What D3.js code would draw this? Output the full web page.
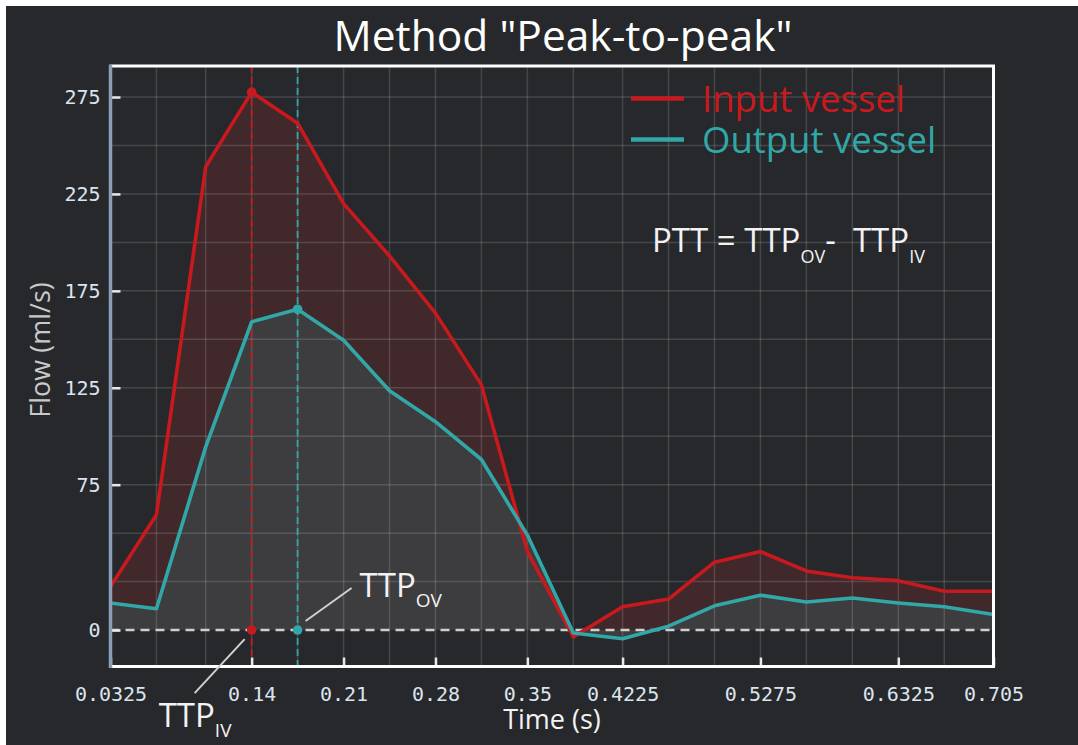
<!DOCTYPE html>
<html>
<head>
<meta charset="utf-8">
<script src="https://cdn.jsdelivr.net/npm/d3@7"></script>
<style>
  html, body { margin: 0; padding: 0; background: #ffffff; }
  svg { display: block; }
</style>
</head>
<body>
<svg id="chart" width="1078" height="745"></svg>
<script>
// Sample times (s)
const times = [0.0325, 0.0675, 0.105, 0.14, 0.175, 0.21, 0.245, 0.28, 0.315, 0.35,
               0.385, 0.4225, 0.4575, 0.4925, 0.5275, 0.5625, 0.5975, 0.6325, 0.6675, 0.705];
// Flow in the input vessel (ml/s)
const inputFlow = [22.5, 59.5, 239, 277.5, 261.5, 220, 193, 163.5, 126.5, 40.5,
                   -3.5, 12, 16, 35, 40.5, 30.5, 27, 25.5, 20, 20];
// Flow in the output vessel (ml/s)
const outputFlow = [14, 11, 94.5, 159, 165.5, 149.5, 123.5, 107.5, 88, 49,
                    -1.5, -4.5, 2, 12.5, 18, 14.5, 16.5, 14, 12, 8];

const xTickValues = [0.0325, 0.14, 0.21, 0.28, 0.35, 0.4225, 0.5275, 0.6325, 0.705];
const yTickValues = [275, 225, 175, 125, 75, 0];
const yGridValues = [0, 25, 50, 75, 100, 125, 150, 175, 200, 225, 250, 275];

const seriesNames = ["Input vessel", "Output vessel"];
const seriesColors = ["#c8191e", "#32a7a7"];

const svg = d3.select("#chart");
const W = 1078, H = 745;
const plot = { left: 110.5, right: 993.5, top: 66, bottom: 666.5 };

// page background
svg.append("rect").attr("x", 6).attr("y", 6).attr("width", W - 6).attr("height", H - 6)
  .attr("fill", "#26282b");

const x = d3.scaleLinear().domain([0.0325, 0.705]).range([plot.left, plot.right]);
const y = d3.scaleLinear().domain([-18.8, 291]).range([plot.bottom, plot.top]);

const g = svg.append("g");

// area fills (between each curve and zero)
const area = d3.area().x((d, i) => x(times[i])).y0(y(0)).y1(d => y(d));
g.append("path").datum(inputFlow).attr("d", area).attr("fill", "#40282b");
g.append("path").datum(outputFlow).attr("d", area).attr("fill", "#3d3c3e");

// grid
const grid = g.append("g").attr("stroke", "rgba(255,255,255,0.14)").attr("stroke-width", 1.5);
grid.selectAll("line.v").data(times.slice(1, -1)).join("line")
  .attr("x1", d => x(d)).attr("x2", d => x(d))
  .attr("y1", plot.top).attr("y2", plot.bottom);
grid.selectAll("line.h").data(yGridValues.slice(1)).join("line")
  .attr("x1", plot.left).attr("x2", plot.right)
  .attr("y1", d => y(d)).attr("y2", d => y(d));

// zero reference line
g.append("line")
  .attr("x1", plot.left).attr("x2", plot.right)
  .attr("y1", y(0)).attr("y2", y(0))
  .attr("stroke", "#cfcfcf").attr("stroke-width", 2.5).attr("stroke-dasharray", "9,6");

// time-to-peak markers
const series = [inputFlow, outputFlow];
const peakIdx = series.map(s => d3.maxIndex(s));
series.forEach((s, k) => {
  const tp = times[peakIdx[k]];
  g.append("line")
    .attr("x1", x(tp)).attr("x2", x(tp))
    .attr("y1", plot.top).attr("y2", plot.bottom)
    .attr("stroke", seriesColors[k]).attr("stroke-width", 1.8)
    .attr("stroke-dasharray", "7,4");
});

// flow curves
const line = d3.line().x((d, i) => x(times[i])).y(d => y(d));
series.forEach((s, k) => {
  g.append("path").datum(s).attr("d", line)
    .attr("fill", "none").attr("stroke", seriesColors[k])
    .attr("stroke-width", 3.6).attr("stroke-linejoin", "round");
});

// peak dots and their projections on the zero line
series.forEach((s, k) => {
  const i = peakIdx[k];
  [s[i], 0].forEach(v => {
    g.append("circle").attr("cx", x(times[i])).attr("cy", y(v)).attr("r", 4.8)
      .attr("fill", seriesColors[k]);
  });
});

// axes
const tickFont = "'DejaVu Sans Mono', monospace";
const yAxis = d3.axisLeft(y).tickValues(yTickValues).tickSize(-10).tickPadding(10)
  .tickFormat(d => String(d));
const yg = svg.append("g").attr("transform", `translate(${plot.left},0)`).call(yAxis);
yg.select(".domain").remove();
yg.selectAll(".tick line").attr("stroke", "#e8e8e8").attr("stroke-width", 2.5);
yg.selectAll(".tick text").attr("fill", "#dbe4ee").style("font-family", tickFont)
  .style("font-size", "20px");

const xAxis = d3.axisBottom(x).tickValues(xTickValues).tickSize(-9).tickPadding(20)
  .tickFormat(d => String(d));
const xg = svg.append("g").attr("transform", `translate(0,${plot.bottom})`).call(xAxis);
xg.select(".domain").remove();
xg.selectAll(".tick line").attr("stroke", "#e8e8e8").attr("stroke-width", 2.5);
xg.selectAll(".tick text").attr("fill", "#dbe4ee").style("font-family", tickFont)
  .style("font-size", "20px");

// frame
svg.append("line").attr("x1", plot.left).attr("x2", plot.right + 1.5)
  .attr("y1", plot.top).attr("y2", plot.top).attr("stroke", "#ffffff").attr("stroke-width", 3);
svg.append("line").attr("x1", plot.right).attr("x2", plot.right)
  .attr("y1", plot.top).attr("y2", plot.bottom + 1.5).attr("stroke", "#ffffff").attr("stroke-width", 3);
svg.append("line").attr("x1", plot.left).attr("x2", plot.right + 1.5)
  .attr("y1", plot.bottom).attr("y2", plot.bottom).attr("stroke", "#ffffff").attr("stroke-width", 3);
svg.append("line").attr("x1", plot.left).attr("x2", plot.left)
  .attr("y1", plot.top - 1.5).attr("y2", plot.bottom + 1.5).attr("stroke", "#8c9db6").attr("stroke-width", 3.5);

const textFont = "'Open Sans', 'Noto Sans', sans-serif";

// title
svg.append("text").attr("x", 563).attr("y", 51).attr("text-anchor", "middle")
  .attr("fill", "#ffffff").style("font-family", textFont).style("font-size", "42.5px")
  .text('Method "Peak-to-peak"');

// axis titles
svg.append("text").attr("x", (plot.left + plot.right) / 2).attr("y", 729)
  .attr("text-anchor", "middle").attr("fill", "#f2f2f2")
  .style("font-family", textFont).style("font-size", "27px").text("Time (s)");
svg.append("text").attr("transform", "translate(50,350) rotate(-90)")
  .attr("text-anchor", "middle").attr("fill", "#c9c9c9")
  .style("font-family", textFont).style("font-size", "27px").text("Flow (ml/s)");

// legend
const legend = svg.append("g");
seriesNames.forEach((name, k) => {
  const ly = 98.5 + k * 41;
  legend.append("line").attr("x1", 631).attr("x2", 684).attr("y1", ly).attr("y2", ly)
    .attr("stroke", seriesColors[k]).attr("stroke-width", 4.5);
  legend.append("text").attr("x", 702).attr("y", ly + 13)
    .attr("fill", seriesColors[k]).style("font-family", textFont).style("font-size", "36.5px")
    .text(name);
});

// labelled text with subscripts
function subText(parent, xPos, yPos, parts, size, subSize, subShift) {
  const t = parent.append("text").attr("x", xPos).attr("y", yPos)
    .attr("fill", "#f2f2f2").style("font-family", textFont).style("font-size", size + "px")
    .style("white-space", "pre");
  parts.forEach(p => {
    const ts = t.append("tspan").text(p.text);
    if (p.sub) ts.style("font-size", subSize + "px").attr("dy", subShift);
    else if (p.back) ts.attr("dy", -subShift);
  });
  return t;
}

// formula
subText(svg, 652, 252, [
  { text: "PTT = TTP" }, { text: "OV", sub: true }, { text: "-\u00a0\u00a0TTP", back: true },
  { text: "IV", sub: true }
], 33, 18, 11);

// peak annotations
const xIV = x(times[peakIdx[0]]), xOV = x(times[peakIdx[1]]), y0 = y(0);
const ann = svg.append("g").attr("stroke", "#d0d0d0").attr("stroke-width", 2);
ann.append("line").attr("x1", xOV + 8).attr("y1", y0 - 9).attr("x2", xOV + 54).attr("y2", y0 - 42);
ann.append("line").attr("x1", xIV - 7).attr("y1", y0 + 9).attr("x2", xIV - 57).attr("y2", y0 + 63);
subText(svg, xOV + 62, y0 - 33, [{ text: "TTP" }, { text: "OV", sub: true }], 33, 19, 10);
subText(svg, xIV - 93, y0 + 97, [{ text: "TTP" }, { text: "IV", sub: true }], 33, 19, 10);
</script>
</body>
</html>
